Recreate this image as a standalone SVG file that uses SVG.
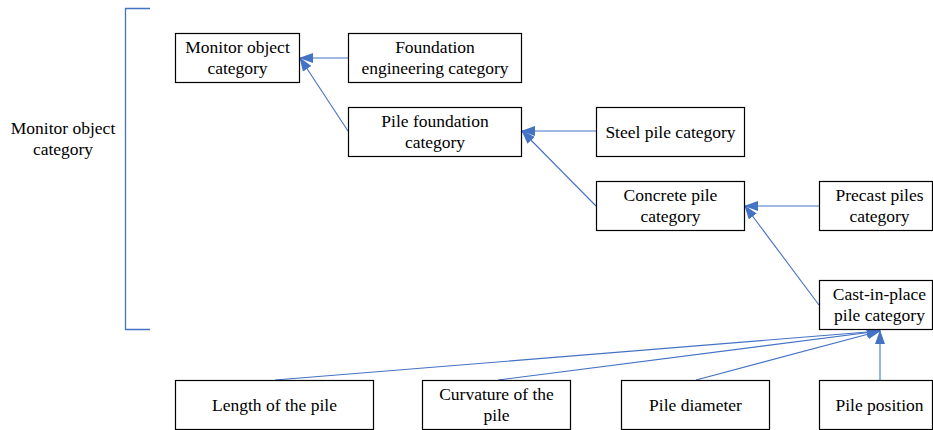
<svg xmlns="http://www.w3.org/2000/svg" width="933" height="430" viewBox="0 0 933 430">
  <style>
    .box { fill: #ffffff; stroke: #000000; stroke-width: 1.2; }
    .lbl { font-family: 'Liberation Serif', 'Times New Roman', serif; font-size: 17.5px; fill: #000000; text-anchor: middle; }
    .edge { fill: none; stroke: #4472C4; stroke-width: 1.1; marker-end: url(#arrow); }
    .bracket { fill: none; stroke: #4472C4; stroke-width: 1.3; }
  </style>
  <defs>
    <marker id="arrow" markerUnits="userSpaceOnUse" markerWidth="14" markerHeight="10" viewBox="0 0 14 10" refX="13" refY="5" orient="auto">
      <path d="M0,0 L14,5 L0,10 Z" fill="#4472C4"/>
    </marker>
  </defs>
  <rect width="933" height="430" fill="#ffffff"/>

  <!-- side bracket and its label -->
  <g id="group-bracket">
    <path class="bracket" d="M150,8.5 H125.5 V329.5 H150"/>
    <text class="lbl" x="63" y="134">Monitor object</text>
    <text class="lbl" x="63" y="155">category</text>
  </g>

  <!-- connectors -->
  <g id="connectors">
    <line class="edge" x1="348" y1="58" x2="300" y2="58"/>
    <line class="edge" x1="348" y1="131" x2="300" y2="58"/>
    <line class="edge" x1="596" y1="131" x2="522" y2="131"/>
    <line class="edge" x1="596" y1="206" x2="522" y2="131"/>
    <line class="edge" x1="819" y1="206" x2="745" y2="206"/>
    <line class="edge" x1="819" y1="305" x2="745" y2="206"/>
    <line class="edge" x1="275" y1="380" x2="880" y2="331"/>
    <line class="edge" x1="498" y1="380" x2="880" y2="331"/>
    <line class="edge" x1="696" y1="380" x2="880" y2="331"/>
    <line class="edge" x1="880" y1="380" x2="880" y2="331"/>
  </g>

  <g id="node-monitor">
    <rect class="box" x="175.5" y="33.5" width="124" height="49"/>
    <text class="lbl" x="237.5" y="53">Monitor object</text>
    <text class="lbl" x="237.5" y="74">category</text>
  </g>
  <g id="node-foundation">
    <rect class="box" x="348.5" y="33.5" width="173" height="49"/>
    <text class="lbl" x="435" y="53">Foundation</text>
    <text class="lbl" x="435" y="74">engineering category</text>
  </g>
  <g id="node-pile-foundation">
    <rect class="box" x="348.5" y="107.5" width="173" height="49"/>
    <text class="lbl" x="435" y="127">Pile foundation</text>
    <text class="lbl" x="435" y="148">category</text>
  </g>
  <g id="node-steel">
    <rect class="box" x="596.5" y="107.5" width="148" height="49"/>
    <text class="lbl" x="670.5" y="138">Steel pile category</text>
  </g>
  <g id="node-concrete">
    <rect class="box" x="596.5" y="181.5" width="148" height="49"/>
    <text class="lbl" x="670.5" y="201">Concrete pile</text>
    <text class="lbl" x="670.5" y="222">category</text>
  </g>
  <g id="node-precast">
    <rect class="box" x="819.5" y="181.5" width="113" height="49"/>
    <text class="lbl" x="879.5" y="201">Precast piles</text>
    <text class="lbl" x="879.5" y="222">category</text>
  </g>
  <g id="node-cast-in-place">
    <rect class="box" x="819.5" y="280.5" width="113" height="49"/>
    <text class="lbl" x="879.5" y="300">Cast-in-place</text>
    <text class="lbl" x="879.5" y="321">pile category</text>
  </g>
  <g id="node-length">
    <rect class="box" x="175.5" y="380.5" width="198" height="49"/>
    <text class="lbl" x="274.5" y="411">Length of the pile</text>
  </g>
  <g id="node-curvature">
    <rect class="box" x="422.5" y="380.5" width="148" height="49"/>
    <text class="lbl" x="496.5" y="400">Curvature of the</text>
    <text class="lbl" x="496.5" y="421">pile</text>
  </g>
  <g id="node-diameter">
    <rect class="box" x="621.5" y="380.5" width="148" height="49"/>
    <text class="lbl" x="695.5" y="411">Pile diameter</text>
  </g>
  <g id="node-position">
    <rect class="box" x="819.5" y="380.5" width="113" height="49"/>
    <text class="lbl" x="879.5" y="411">Pile position</text>
  </g>
</svg>
